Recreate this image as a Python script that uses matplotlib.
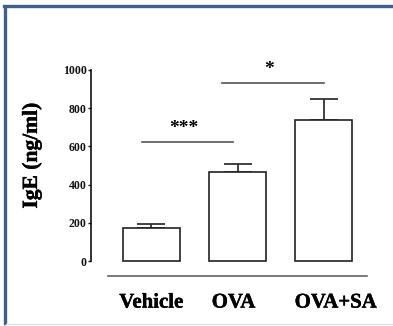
import matplotlib
matplotlib.use("Agg")
import matplotlib.pyplot as plt
from matplotlib.lines import Line2D
import matplotlib.transforms as mtransforms
import matplotlib.patheffects as pe

categories = ["Vehicle", "OVA", "OVA+SA"]
ige_means = [172, 468, 740]
ige_errors = [20, 38, 110]
y_ticks = [0, 200, 400, 600, 800, 1000]
sig_pairs = [(-0.11, 0.945, 623, "***"), (0.82, 2.0, 932, "*")]

W, H = 393, 326
fig = plt.figure(figsize=(W / 100, H / 100), dpi=100, facecolor="white")

def px(x, y):
    return x / W, 1 - y / H

# blue frame (left and top visible)
fig.add_artist(Line2D([px(5, 0)[0], px(5, 0)[0]], [px(0, 6.5)[1], px(0, 323)[1]],
                      transform=fig.transFigure, color="#3E5E8C", lw=2.4))
fig.add_artist(Line2D([px(3.8, 0)[0], 1.0], [px(0, 6)[1], px(0, 6)[1]],
                      transform=fig.transFigure, color="#3E5E8C", lw=2.4))
fig.add_artist(Line2D([px(6, 0)[0], 1.0], [px(0, 323.5)[1]] * 2,
                      transform=fig.transFigure, color="#D8E3EF", lw=1.0))

ax = fig.add_axes([0.2316, 0.1525, 0.757, 0.6328])
ax.set_facecolor("none")
x = list(range(len(categories)))
ax.bar(x, ige_means, width=0.66, color="white", edgecolor="#222222", linewidth=1.2, zorder=2)
ax.errorbar(x, ige_means, yerr=[[0] * len(x), ige_errors], fmt="none",
            ecolor="#333333", elinewidth=1.3, capsize=10, capthick=1.3, zorder=1)

ax.set_xlim(-0.70, 2.75)
ax.set_ylim(-80, 1000)

for sp in ["top", "right"]:
    ax.spines[sp].set_visible(False)
ax.spines["left"].set_bounds(0, 1000)
ax.spines["left"].set_linewidth(1.2)
ax.spines["left"].set_color("#111111")
ax.spines["bottom"].set_position(("data", -78))
ax.spines["bottom"].set_bounds(-0.5, 2.5)
ax.spines["bottom"].set_color("#555555")
ax.spines["bottom"].set_linewidth(1.1)

bold = [pe.withStroke(linewidth=0.3, foreground="black")]

ax.set_yticks(y_ticks)
ax.set_yticklabels([str(t) for t in y_ticks], fontfamily="Liberation Serif",
                   fontweight="bold", fontsize=8.5)
ax.tick_params(axis="y", direction="out", length=2.5, width=1.0, pad=0.5, colors="#111111")

ax.set_xticks(x)
ax.set_xticklabels(categories, fontfamily="Liberation Serif", fontweight="bold", fontsize=15)
ax.tick_params(axis="x", length=0, pad=12)
offsets = [0, -4, 12]
for lab, dx in zip(ax.get_xticklabels(), offsets):
    lab.set_transform(lab.get_transform() + mtransforms.ScaledTranslation(dx / 100, 0, fig.dpi_scale_trans))
    lab.set_path_effects(bold)

ylab = ax.set_ylabel("IgE (ng/ml)", fontfamily="Liberation Serif", fontweight="bold", fontsize=15.5)
ax.yaxis.set_label_coords(-0.165, 0.585)
ylab.set_path_effects(bold)

for x0, x1, yv, s in sig_pairs:
    ax.plot([x0, x1], [yv, yv], color="#555555", lw=1.2, clip_on=False)
    ax.text((x0 + x1) / 2 - 0.04, yv + 28, s, ha="center", va="bottom",
            fontfamily="Liberation Serif", fontweight="bold", fontsize=14, clip_on=False)

fig.savefig("out.png", dpi=100, facecolor="white")
